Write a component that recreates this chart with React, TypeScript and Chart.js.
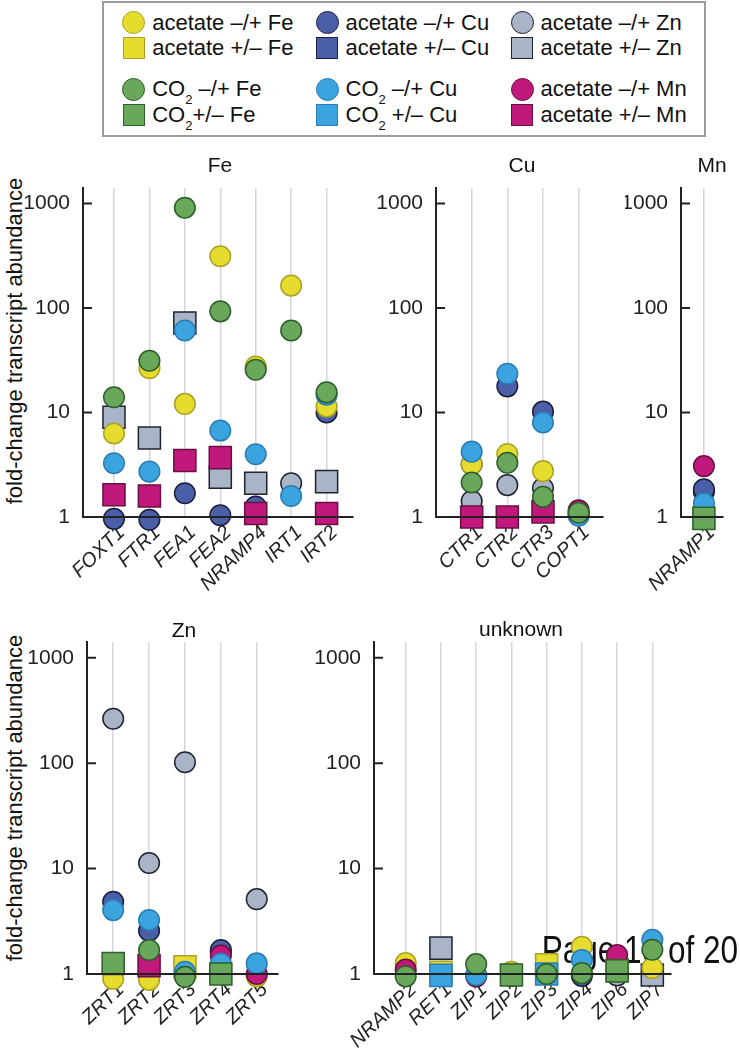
import React, { useEffect, useRef } from 'react';
import { Chart, registerables } from 'chart.js';

Chart.register(...registerables);

const FONT = '"Liberation Sans", Arial, Helvetica, sans-serif';

// ---- categories (genes) per panel ----
const feGenes = ['FOXT1', 'FTR1', 'FEA1', 'FEA2', 'NRAMP4', 'IRT1', 'IRT2'];
const cuGenes = ['CTR1', 'CTR2', 'CTR3', 'COPT1'];
const mnGenes = ['NRAMP1'];
const znGenes = ['ZRT1', 'ZRT2', 'ZRT3', 'ZRT4', 'ZRT5'];
const unknownGenes = ['NRAMP2', 'RET1', 'ZIP1', 'ZIP2', 'ZIP3', 'ZIP4', 'ZIP6', 'ZIP7'];

const yTickValues = [1, 10, 100, 1000];
const yAxisTitle = 'fold-change transcript abundance';
const pageNote = 'Page 10 of 20';

// ---- series values (fold change), gene order: Fe(7) | Cu(4) | Mn(1) | Zn(5) | unknown(8) ----
const acetateMinusPlusFe = [
  6.3, 26.6, 12.1, 313, 27.6, 164, 11.4,
  3.2, 4.0, 2.75, null,
  null,
  0.9, 0.88, null, null, 0.95,
  1.27, null, null, 1.05, null, 1.81, null, 1.14,
];
const acetatePlusMinusFe = [
  null, null, null, null, null, null, null,
  null, null, null, null,
  null,
  null, null, 1.17, null, null,
  null, 1.04, null, null, 1.22, null, 1.1, null,
];
const acetateMinusPlusCu = [
  0.96, 0.94, 1.69, 1.04, 1.26, null, 10,
  3.2, 17.8, 10.2, null,
  1.84,
  4.84, 2.57, null, 1.69, null,
  null, null, null, null, null, 0.96, null, null,
];
const acetatePlusMinusCu = [
  null, null, null, null, null, null, null,
  null, null, null, null,
  null,
  null, null, null, null, null,
  null, null, null, null, null, null, null, null,
];
const acetateMinusPlusZn = [
  null, null, null, null, null, 2.1, null,
  1.42, 2.02, 1.88, 1.08,
  1.74,
  264, 11.3, 102, 1.6, 5.13,
  null, null, null, null, null, null, 0.97, null,
];
const acetatePlusMinusZn = [
  9.0, 5.7, 72, 2.4, 2.1, null, 2.18,
  null, null, null, null,
  null,
  null, null, null, null, null,
  null, 1.76, null, null, null, null, null, 0.98,
];
const co2MinusPlusFe = [
  14, 31.3, 912, 93, 25.7, 61, 15.6,
  2.14, 3.31, 1.56, 1.1,
  null,
  null, 1.69, 0.94, null, null,
  0.95, null, 1.24, null, 1.0, 1.02, null, 1.7,
];
const co2PlusMinusFe = [
  null, null, null, null, null, null, null,
  null, null, null, null,
  0.97,
  1.26, null, null, 1.0, null,
  null, null, null, 0.98, null, null, 1.07, null,
];
const co2MinusPlusCu = [
  3.27, 2.72, 61, 6.72, 3.99, 1.59, 14.8,
  4.22, 23.5, 8.03, 1.03,
  1.35,
  4.04, 3.25, 1.05, 1.25, 1.26,
  null, null, 0.98, null, null, 1.36, null, 2.11,
];
const co2PlusMinusCu = [
  null, null, null, null, null, null, null,
  null, null, null, null,
  null,
  null, null, null, null, null,
  null, 0.97, null, null, 1.0, null, null, null,
];
const acetateMinusPlusMn = [
  null, null, null, null, null, null, null,
  null, null, null, 1.16,
  3.07,
  null, null, null, 1.5, 1.0,
  1.1, null, 0.95, 0.96, null, null, 1.51, null,
];
const acetatePlusMinusMn = [
  1.63, 1.59, 3.47, 3.7, 1.08, null, 1.08,
  1.0, 1.0, 1.12, null,
  null,
  null, 1.2, null, null, null,
  null, null, null, null, null, null, null, null,
];

type Series = { label: string; values: (number | null)[]; shape: 'circle' | 'rect'; fill: string; stroke: string; order: number };

const SERIES: Series[] = [
  { label: 'acetate –/+ Fe', values: acetateMinusPlusFe, shape: 'circle', fill: '#e5dc2e', stroke: '#aaa225', order: 3 },
  { label: 'acetate +/– Fe', values: acetatePlusMinusFe, shape: 'rect', fill: '#e5dc2e', stroke: '#aaa225', order: 3 },
  { label: 'acetate –/+ Cu', values: acetateMinusPlusCu, shape: 'circle', fill: '#4a5fa8', stroke: '#1b1f3a', order: 4 },
  { label: 'acetate +/– Cu', values: acetatePlusMinusCu, shape: 'rect', fill: '#4a5fa8', stroke: '#1b1f3a', order: 4 },
  { label: 'acetate –/+ Zn', values: acetateMinusPlusZn, shape: 'circle', fill: '#a9b4c6', stroke: '#1e2330', order: 5 },
  { label: 'acetate +/– Zn', values: acetatePlusMinusZn, shape: 'rect', fill: '#a9b4c6', stroke: '#1e2330', order: 5 },
  { label: 'CO2 –/+ Fe', values: co2MinusPlusFe, shape: 'circle', fill: '#69a85b', stroke: '#2d5f2a', order: 0 },
  { label: 'CO2+/– Fe', values: co2PlusMinusFe, shape: 'rect', fill: '#69a85b', stroke: '#2d5f2a', order: 0 },
  { label: 'CO2 –/+ Cu', values: co2MinusPlusCu, shape: 'circle', fill: '#3ba3dd', stroke: '#2a7db5', order: 1 },
  { label: 'CO2 +/– Cu', values: co2PlusMinusCu, shape: 'rect', fill: '#3ba3dd', stroke: '#2a7db5', order: 1 },
  { label: 'acetate –/+ Mn', values: acetateMinusPlusMn, shape: 'circle', fill: '#c0197b', stroke: '#6a0f44', order: 2 },
  { label: 'acetate +/– Mn', values: acetatePlusMinusMn, shape: 'rect', fill: '#c0197b', stroke: '#6a0f44', order: 2 },
];

// legend layout: column-major, 4 per column
const LEGEND_ORDER = [0, 1, 6, 7, 2, 3, 8, 9, 4, 5, 10, 11];
const LEGEND_COL_X = [133.7, 327, 522];
const LEGEND_ROW_Y = [22.7, 48.3, 89, 115];

type PanelDef = {
  title: string; genes: string[]; offset: number;
  left: number; top: number; width: number; height: number;
  axisW: number; xH: number; padTop: number; padRight: number;
  xMin: number; xMax: number; titleX: number; titleY: number; note?: boolean;
};

const PANELS: PanelDef[] = [
  { title: 'Fe', genes: feGenes, offset: 0, left: 25, top: 170, width: 345, height: 430, axisW: 58, xH: 83, padTop: 18, padRight: 17, xMin: -0.874, xMax: 6.742, titleX: 220, titleY: 165 },
  { title: 'Cu', genes: cuGenes, offset: 7, left: 375, top: 170, width: 245, height: 430, axisW: 61, xH: 83, padTop: 18, padRight: 17, xMin: -1.0, xMax: 3.68, titleX: 522, titleY: 165 },
  { title: 'Mn', genes: mnGenes, offset: 11, left: 625, top: 170, width: 115, height: 430, axisW: 56, xH: 83, padTop: 18, padRight: 6, xMin: -0.82, xMax: 0.68, titleX: 712, titleY: 165 },
  { title: 'Zn', genes: znGenes, offset: 12, left: 25, top: 625, width: 270, height: 425, axisW: 62, xH: 76, padTop: 17, padRight: 17, xMin: -0.73, xMax: 4.59, titleX: 184, titleY: 630 },
  { title: 'unknown', genes: unknownGenes, offset: 17, left: 305, top: 625, width: 435, height: 425, axisW: 69, xH: 76, padTop: 17, padRight: 69, xMin: -0.9, xMax: 7.53, titleX: 521, titleY: 629, note: true },
];

const axisOverlay = {
  id: 'axisOverlay',
  afterDatasetsDraw(chart: any) {
    const { ctx, chartArea: a, scales } = chart;
    ctx.save();
    ctx.strokeStyle = '#222';
    ctx.lineWidth = 2;
    ctx.beginPath();
    ctx.moveTo(a.left - 1, a.bottom);
    ctx.lineTo(a.right, a.bottom);
    for (const v of yTickValues) {
      if (v === 1) continue;
      const y = scales.y.getPixelForValue(v);
      ctx.moveTo(a.left, y);
      ctx.lineTo(a.left + 9, y);
    }
    ctx.stroke();
    ctx.restore();
  },
};

const pageNotePlugin = {
  id: 'pageNote',
  beforeDatasetsDraw(chart: any) {
    const { ctx } = chart;
    ctx.save();
    ctx.font = `38px ${FONT}`;
    ctx.fillStyle = '#111';
    ctx.textBaseline = 'alphabetic';
    ctx.translate(541.7 - 305, 963 - 625);
    ctx.scale(0.83, 1);
    ctx.fillText(pageNote, 0, 0);
    ctx.restore();
  },
};

function Panel({ p }: { p: PanelDef }) {
  const ref = useRef<HTMLCanvasElement>(null);
  useEffect(() => {
    if (!ref.current) return;
    const datasets = SERIES.map((s) => {
      const pts: { x: number; y: number }[] = [];
      p.genes.forEach((_, i) => {
        const v = s.values[p.offset + i];
        if (v !== null && v !== undefined) pts.push({ x: i, y: v });
      });
      const r = s.shape === 'circle' ? 10.3 : 15.6;
      return {
        label: s.label,
        data: pts,
        pointStyle: s.shape,
        pointRadius: r,
        pointHoverRadius: r,
        backgroundColor: s.fill,
        borderColor: s.stroke,
        pointBorderWidth: 1.5,
        borderWidth: 1.5,
        order: s.order,
        clip: false as any,
        showLine: false,
      };
    }).filter((d) => d.data.length > 0);

    const chart = new Chart(ref.current, {
      type: 'scatter',
      data: { datasets: datasets as any },
      options: {
        animation: false,
        responsive: false,
        devicePixelRatio: 1,
        events: [],
        layout: { padding: { top: p.padTop, right: p.padRight, left: 0, bottom: 0 } },
        plugins: { legend: { display: false }, tooltip: { enabled: false }, title: { display: false } },
        scales: {
          x: {
            type: 'linear',
            min: p.xMin,
            max: p.xMax,
            bounds: 'data',
            afterBuildTicks: (sc: any) => { sc.ticks = p.genes.map((_, i) => ({ value: i })); },
            afterFit: (sc: any) => {
              sc.height = p.xH;
              sc.paddingLeft = 0; sc.paddingRight = 0; sc.paddingTop = 0; sc.paddingBottom = 0;
            },
            ticks: {
              autoSkip: false,
              minRotation: 44,
              maxRotation: 44,
              padding: 4,
              labelOffset: 8,
              color: '#222',
              font: { family: FONT, size: 20, style: 'italic' },
              callback: (v: any) => p.genes[Math.round(Number(v))] ?? '',
            },
            grid: { color: '#d6d6de', lineWidth: 1.5, drawTicks: false },
            border: { display: true, color: '#222', width: 2 },
          },
          y: {
            type: 'logarithmic',
            min: 1,
            max: 1410,
            bounds: 'data',
            afterBuildTicks: (sc: any) => { sc.ticks = yTickValues.map((v) => ({ value: v })); },
            afterFit: (sc: any) => {
              sc.width = p.axisW;
              sc.paddingLeft = 0; sc.paddingRight = 0; sc.paddingTop = 0; sc.paddingBottom = 0;
            },
            ticks: {
              padding: 5,
              color: '#222',
              font: { family: FONT, size: 21 },
              callback: (v: any) => String(v),
            },
            grid: { display: false },
            border: { display: true, color: '#222', width: 2 },
          },
        },
      } as any,
      plugins: p.note ? [axisOverlay, pageNotePlugin] : [axisOverlay],
    });
    return () => chart.destroy();
  }, [p]);

  return (
    <>
      <canvas
        ref={ref}
        width={p.width}
        height={p.height}
        style={{ position: 'absolute', left: p.left, top: p.top, width: p.width, height: p.height }}
      />
      <div
        style={{
          position: 'absolute', left: p.titleX - 100, top: p.titleY - 13, width: 200, height: 26,
          lineHeight: '26px', textAlign: 'center', fontFamily: FONT, fontSize: 21, color: '#111',
        }}
      >
        {p.title}
      </div>
    </>
  );
}

function LegendLabel({ text }: { text: string }) {
  if (text.startsWith('CO2')) {
    return (
      <>
        CO<span style={{ fontSize: 13, position: 'relative', top: 8 }}>2</span>
        {text.slice(3)}
      </>
    );
  }
  return <>{text}</>;
}

function Legend() {
  return (
    <>
      <div
        style={{
          position: 'absolute', left: 102, top: 1, width: 604, height: 136,
          border: '2px solid #9c9c9c', boxSizing: 'border-box',
        }}
      />
      {LEGEND_ORDER.map((si, k) => {
        const s = SERIES[si];
        const cx = LEGEND_COL_X[Math.floor(k / 4)];
        const cy = LEGEND_ROW_Y[k % 4];
        const size = s.shape === 'circle' ? 23 : 22;
        return (
          <React.Fragment key={si}>
            <div
              style={{
                position: 'absolute', left: cx - size / 2, top: cy - size / 2, width: size, height: size,
                boxSizing: 'border-box', background: s.fill, border: `1.5px solid ${s.stroke}`,
                borderRadius: s.shape === 'circle' ? '50%' : 0,
              }}
            />
            <div
              style={{
                position: 'absolute', left: cx + 18.5, top: cy - 14, height: 28, lineHeight: '28px',
                fontFamily: FONT, fontSize: 22, color: '#111', whiteSpace: 'nowrap',
              }}
            >
              <LegendLabel text={s.label} />
            </div>
          </React.Fragment>
        );
      })}
    </>
  );
}

function YTitle({ cy }: { cy: number }) {
  return (
    <div
      style={{
        position: 'absolute', left: 15 - 200, top: cy - 14, width: 400, height: 28, lineHeight: '28px',
        textAlign: 'center', fontFamily: FONT, fontSize: 22, color: '#111',
        transform: 'rotate(-90deg)', transformOrigin: '50% 50%', whiteSpace: 'nowrap',
      }}
    >
      {yAxisTitle}
    </div>
  );
}

export default function App() {
  return (
    <div
      style={{
        position: 'absolute', left: 0, top: 0, width: 740, height: 1050,
        background: '#fff', overflow: 'hidden',
      }}
    >
      <Legend />
      <YTitle cy={341} />
      <YTitle cy={798} />
      {PANELS.map((p) => (
        <Panel key={p.title} p={p} />
      ))}
    </div>
  );
}
